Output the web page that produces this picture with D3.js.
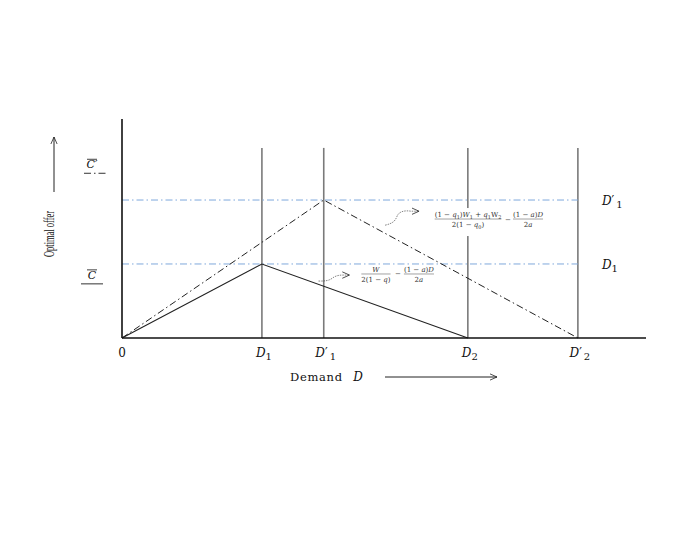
<!DOCTYPE html>
<html>
<head>
<meta charset="utf-8">
<script src="https://cdn.jsdelivr.net/npm/d3@7"></script>
<style>
  body { margin: 0; background: #fff; }
  text { font-family: "DejaVu Serif", "Liberation Serif", serif; fill: #111; }
</style>
</head>
<body>
<div id="chart"></div>
<script>
// demand break points (x) and offer levels (y), in chart units
var demandNames = ["0", "D1", "D'1", "D2", "D'2"];
var demandValues = [0, 2.67, 3.85, 6.6, 8.7];
var offerNames = ["C", "C'"];
var offerValues = [3.38, 6.3];
var guideTop = 8.68;

// the two optimal offer profiles
var profileLow = [{d: 0, c: 0}, {d: 2.67, c: 3.38}, {d: 6.6, c: 0}];
var profileHigh = [{d: 0, c: 0}, {d: 3.85, c: 6.3}, {d: 8.7, c: 0}];

var margin = {top: 119, right: 39, bottom: 212, left: 122},
    width = 685 - margin.left - margin.right,
    height = 550 - margin.top - margin.bottom;

var x = d3.scaleLinear().domain([0, 10]).range([0, width]);
var y = d3.scaleLinear().domain([0, 10]).range([height, 0]);

var root = d3.select("#chart").append("svg")
    .attr("width", 685)
    .attr("height", 550);

var defs = root.append("defs");
defs.append("marker")
    .attr("id", "open")
    .attr("viewBox", "0 0 10 10")
    .attr("refX", 9).attr("refY", 5)
    .attr("markerWidth", 8).attr("markerHeight", 8)
    .attr("markerUnits", "userSpaceOnUse")
    .attr("orient", "auto")
  .append("path")
    .attr("d", "M0,1 L9,5 L0,9")
    .attr("fill", "none")
    .attr("stroke", "#222")
    .attr("stroke-width", 1);

var svg = root.append("g")
    .attr("transform", "translate(" + margin.left + "," + margin.top + ")");

// vertical guides at each break point
svg.selectAll("line.guide")
    .data(demandValues.slice(1))
    .enter().append("line")
    .attr("class", "guide")
    .attr("x1", function(d) { return x(d); })
    .attr("x2", function(d) { return x(d); })
    .attr("y1", y(guideTop))
    .attr("y2", y(0))
    .style("stroke", "#7a7a7a")
    .style("stroke-width", 1.6);

// horizontal blue dash-dot levels
svg.selectAll("line.level")
    .data(offerValues)
    .enter().append("line")
    .attr("class", "level")
    .attr("x1", x(0))
    .attr("x2", x(demandValues[4]))
    .attr("y1", function(d) { return y(d); })
    .attr("y2", function(d) { return y(d); })
    .style("stroke", "#7fa8dc")
    .style("stroke-width", 1)
    .style("stroke-dasharray", "7,3,1.5,3");

var line = d3.line()
    .x(function(d) { return x(d.d); })
    .y(function(d) { return y(d.c); });

svg.append("path")
    .datum(profileLow)
    .attr("d", line)
    .style("fill", "none")
    .style("stroke", "#222")
    .style("stroke-width", 1.1);

svg.append("path")
    .datum(profileHigh)
    .attr("d", line)
    .style("fill", "none")
    .style("stroke", "#222")
    .style("stroke-width", 1)
    .style("stroke-dasharray", "7,3,1.5,3");

// axes
svg.append("line")
    .attr("x1", x(0)).attr("x2", x(0))
    .attr("y1", y(0)).attr("y2", y(10))
    .style("stroke", "#111").style("stroke-width", 1.6);
svg.append("line")
    .attr("x1", x(0)).attr("x2", x(10))
    .attr("y1", y(0)).attr("y2", y(0))
    .style("stroke", "#111").style("stroke-width", 1.4);

// label helper: italic letter, optional prime, upright subscript
function mathLabel(sel, name) {
    if (name === "0") { sel.append("tspan").text("0"); return; }
    var letter = name.charAt(0), prime = name.indexOf("'") >= 0,
        sub = name.replace(/[^0-9]/g, "");
    sel.append("tspan").style("font-style", "italic").text(letter);
    if (prime) sel.append("tspan").text("\u2032");
    if (sub) sel.append("tspan").attr("dy", 3).attr("dx", prime ? 2 : 0)
        .style("font-size", "10px").text(sub);
}

svg.selectAll("text.dlabel")
    .data(demandNames)
    .enter().append("text")
    .attr("class", "dlabel")
    .attr("x", function(d, i) { return x(demandValues[i]) + (i === 0 ? 0 : 2); })
    .attr("y", y(0) + 19)
    .attr("text-anchor", "middle")
    .style("font-size", "12px")
    .each(function(d) { mathLabel(d3.select(this), d); });

// right-hand labels for the two levels
var rightNames = ["D1", "D'1"];
svg.selectAll("text.rlabel")
    .data(rightNames)
    .enter().append("text")
    .attr("class", "rlabel")
    .attr("x", x(demandValues[4]) + 24)
    .attr("y", function(d, i) { return y(offerValues[i]) + 5; })
    .style("font-size", "12px")
    .each(function(d) { mathLabel(d3.select(this), d); });

// left labels C-bar and C-bar-prime
var leftY = [offerValues[0] - 0.68, offerValues[1] + 1.45];
offerNames.forEach(function(n, i) {
    var g = svg.append("g")
        .attr("transform", "translate(" + (x(0) - 30) + "," + y(leftY[i]) + ")");
    g.append("text")
        .attr("x", 0).attr("y", 0)
        .attr("text-anchor", "middle")
        .style("font-size", "11px")
        .style("font-style", "italic")
        .text(n.replace("'", "\u2032"));
    g.append("line")
        .attr("x1", -5).attr("x2", 5).attr("y1", -9).attr("y2", -9)
        .style("stroke", "#111").style("stroke-width", 0.8);
    g.append("line")
        .attr("x1", i === 0 ? -11 : -8).attr("x2", i === 0 ? 11 : 16)
        .attr("y1", 5).attr("y2", 5)
        .style("stroke", "#333").style("stroke-width", 1)
        .style("stroke-dasharray", i === 0 ? null : "7,3,1.5,3");
});

// axis titles with arrows
root.append("text")
    .attr("transform", "translate(54,234) rotate(-90)")
    .attr("text-anchor", "middle")
    .attr("textLength", 46)
    .attr("lengthAdjust", "spacingAndGlyphs")
    .style("font-family", "Liberation Serif, serif")
    .style("font-size", "15px")
    .text("Optimal offer");
root.append("line")
    .attr("x1", 54).attr("x2", 54).attr("y1", 192).attr("y2", 137)
    .style("stroke", "#222").style("stroke-width", 1)
    .attr("marker-end", "url(#open)");

root.append("text")
    .attr("x", 290).attr("y", 381)
    .style("font-size", "11.5px")
    .style("letter-spacing", "0.7px")
    .text("Demand ")
  .append("tspan")
    .attr("dx", 6)
    .style("font-style", "italic")
    .style("font-size", "12px")
    .text("D");
root.append("line")
    .attr("x1", 385).attr("x2", 497).attr("y1", 377).attr("y2", 377)
    .style("stroke", "#222").style("stroke-width", 1)
    .attr("marker-end", "url(#open)");

// formula annotations with wavy arrows
function fraction(g, cx, num, den, fs) {
    var n = g.append("text").attr("x", cx).attr("y", -2)
        .attr("text-anchor", "middle").style("font-size", fs + "px");
    num(n);
    var dd = g.append("text").attr("x", cx).attr("y", fs + 1)
        .attr("text-anchor", "middle").style("font-size", fs + "px");
    den(dd);
    var w = Math.max(n.node().getComputedTextLength(), dd.node().getComputedTextLength());
    g.append("line").attr("x1", cx - w / 2).attr("x2", cx + w / 2)
        .attr("y1", 0).attr("y2", 0)
        .style("stroke", "#444").style("stroke-width", 0.5);
}
function parts(list) {
    return function(t) {
        t.style("fill", "#333");
        list.forEach(function(p) {
            var s = t.append("tspan").text(p[0]);
            if (p[1] === "i") s.style("font-style", "italic");
            if (p[1] === "s") s.attr("dy", 1.5).style("font-size", "5px");
            if (p[1] === "b") s.attr("dy", -1.5);
        });
    };
}

// upper formula, on a white box that hides the guide behind it
var fu = svg.append("g")
    .attr("transform", "translate(" + x(6.05) + "," + (y(offerValues[1]) + 19) + ")");
fu.append("rect")
    .attr("x", -3).attr("y", -11).attr("width", 116).attr("height", 28)
    .style("fill", "#fff");
fraction(fu, 29,
    parts([["(1 \u2212 "], ["q", "i"], ["1", "s"], [")", "b"], ["W", "i"], ["1", "s"],
           [" + ", "b"], ["q", "i"], ["1", "s"], ["W", "b"], ["2", "s"]]),
    parts([["2(1 \u2212 "], ["q", "i"], ["0", "s"], [")", "b"]]), 7);
fu.append("text").attr("x", 66).attr("y", 2.5).style("font-size", "7px")
    .style("fill", "#333").text("\u2212");
fraction(fu, 89,
    parts([["(1 \u2212 "], ["a", "i"], [")"], ["D", "i"]]),
    parts([["2"], ["a", "i"]]), 7);

svg.append("path")
    .attr("d", "M" + (x(5.02)) + "," + (y(5.15)) +
        " c8,-2 10,-4 12,-9 c2,-5 8,-6 14,-5 l8,0")
    .style("fill", "none")
    .style("stroke", "#333")
    .style("stroke-width", 0.6)
    .style("stroke-dasharray", "1.5,1")
    .attr("marker-end", "url(#open)");

// lower formula
var fl = svg.append("g")
    .attr("transform", "translate(" + x(4.56) + "," + (y(offerValues[0]) + 10) + ")");
fraction(fl, 15,
    parts([["W", "i"]]),
    parts([["2(1 \u2212 "], ["q", "i"], [")"]]), 7);
fl.append("text").attr("x", 34).attr("y", 2.5).style("font-size", "7px")
    .style("fill", "#333").text("\u2212");
fraction(fl, 58,
    parts([["(1 \u2212 "], ["a", "i"], [")"], ["D", "i"]]),
    parts([["2"], ["a", "i"]]), 7);

svg.append("path")
    .attr("d", "M" + (x(3.75)) + "," + (y(2.6)) +
        " c6,0 10,0 14,-3 c4,-3 8,-3 12,-3 l5,0")
    .style("fill", "none")
    .style("stroke", "#333")
    .style("stroke-width", 0.6)
    .style("stroke-dasharray", "1.5,1")
    .attr("marker-end", "url(#open)");
</script>
</body>
</html>
